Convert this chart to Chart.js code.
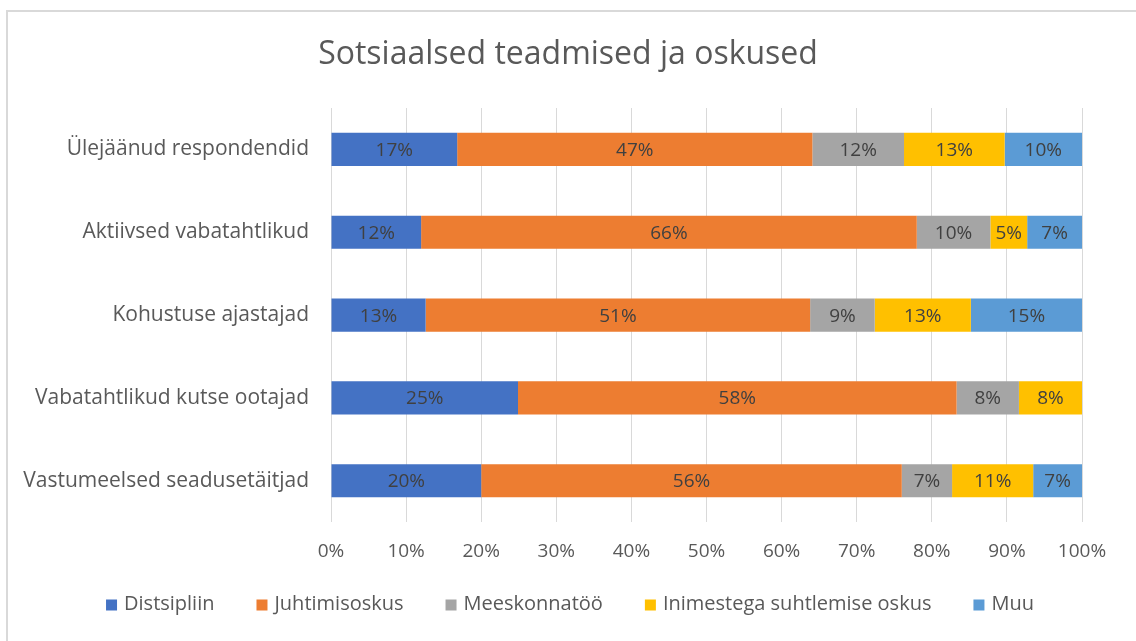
<!DOCTYPE html>
<html>
<head>
<meta charset="utf-8">
<script src="https://cdn.jsdelivr.net/npm/chart.js@4"></script>
<style>
  html, body { margin: 0; padding: 0; background: #fff; overflow: hidden; }
  #wrap { position: relative; width: 1136px; height: 641px; }
  #frame { position: absolute; left: 6px; top: 10px; width: 1200px; height: 700px; border: 2px solid #d9d9d9; box-sizing: border-box; }
  #c { position: absolute; left: 0; top: 0; }
</style>
</head>
<body>
<div id="wrap">
  <div id="frame"></div>
  <canvas id="c" width="1136" height="641"></canvas>
</div>
<script>
const chartTitle = "Sotsiaalsed teadmised ja oskused";
const categories = [
  "Ülejäänud respondendid",
  "Aktiivsed vabatahtlikud",
  "Kohustuse ajastajad",
  "Vabatahtlikud kutse ootajad",
  "Vastumeelsed seadusetäitjad"
];
const seriesNames = ["Distsipliin", "Juhtimisoskus", "Meeskonnatöö", "Inimestega suhtlemise oskus", "Muu"];
const distsipliin   = [16.8, 12.0, 12.6, 24.9, 20.0];
const juhtimisoskus = [47.3, 66.0, 51.2, 58.4, 56.0];
const meeskonnatoo  = [12.2,  9.8,  8.6,  8.3,  6.7];
const inimestega    = [13.4,  4.9, 12.8,  8.4, 10.8];
const muu           = [10.3,  7.3, 14.8,  0.0,  6.5];
const tickLabels = ["0%","10%","20%","30%","40%","50%","60%","70%","80%","90%","100%"];
const colors = ["#4472C4", "#ED7D31", "#A5A5A5", "#FFC000", "#5B9BD5"];

const seriesValues = [distsipliin, juhtimisoskus, meeskonnatoo, inimestega, muu];
const FONT = "'Open Sans', 'Noto Sans', sans-serif";

const datasets = seriesNames.map((name, i) => ({
  label: name,
  data: seriesValues[i],
  backgroundColor: colors[i],
  borderWidth: 0,
  barPercentage: 0.4,
  categoryPercentage: 1.0
}));

const labelPlugin = {
  id: 'segLabels',
  afterDatasetsDraw(chart) {
    const ctx = chart.ctx;
    ctx.save();
    ctx.font = "19px " + FONT;
    ctx.fillStyle = "#404040";
    ctx.textAlign = "center";
    ctx.textBaseline = "middle";
    chart.data.datasets.forEach((ds, di) => {
      const meta = chart.getDatasetMeta(di);
      meta.data.forEach((bar, j) => {
        const v = ds.data[j];
        if (!v) return;
        const x = (bar.x + bar.base) / 2;
        ctx.fillText(Math.round(v) + "%", x, bar.y + 1);
      });
    });
    ctx.restore();
  }
};

const titleAndLegendPlugin = {
  id: 'titleLegend',
  afterDraw(chart) {
    const ctx = chart.ctx;
    ctx.save();
    // title, centred over the whole canvas
    ctx.font = "32px " + FONT;
    ctx.fillStyle = "#595959";
    ctx.textAlign = "center";
    ctx.textBaseline = "middle";
    ctx.fillText(chartTitle, chart.width / 2, 55);
    // legend, built from the datasets
    ctx.font = "20px " + FONT;
    ctx.textAlign = "left";
    const box = 11, boxGap = 7, itemGap = 42, y = 604;
    const items = chart.data.datasets.map(ds => ({
      text: ds.label, color: ds.backgroundColor,
      w: box + boxGap + ctx.measureText(ds.label).width
    }));
    const total = items.reduce((s, it) => s + it.w, 0) + itemGap * (items.length - 1);
    let x = chart.width / 2 - total / 2 + 2;
    items.forEach(it => {
      ctx.fillStyle = it.color;
      ctx.fillRect(x, y - box / 2 + 1, box, box);
      ctx.fillStyle = "#595959";
      ctx.fillText(it.text, x + box + boxGap, y);
      x += it.w + itemGap;
    });
    ctx.restore();
  }
};

new Chart(document.getElementById('c'), {
  type: 'bar',
  data: { labels: categories, datasets },
  plugins: [labelPlugin, titleAndLegendPlugin],
  options: {
    indexAxis: 'y',
    responsive: false,
    animation: false,
    layout: { padding: { left: 0, right: 54, top: 108, bottom: 60 } },
    plugins: {
      title: { display: false },
      legend: { display: false },
      tooltip: { enabled: false }
    },
    scales: {
      x: {
        stacked: true,
        min: 0,
        max: 100,
        ticks: {
          stepSize: 10,
          color: "#595959",
          font: { family: FONT, size: 19 },
          padding: 18,
          callback: (v, i) => tickLabels[i]
        },
        grid: { color: "#d9d9d9", lineWidth: 1, drawTicks: false },
        border: { display: false }
      },
      y: {
        stacked: true,
        ticks: {
          color: "#595959",
          font: { family: FONT, size: 21 },
          padding: 14
        },
        grid: { display: false },
        border: { display: false },
        afterFit(scale) { scale.width = 331; }
      }
    }
  }
});
</script>
</body>
</html>
